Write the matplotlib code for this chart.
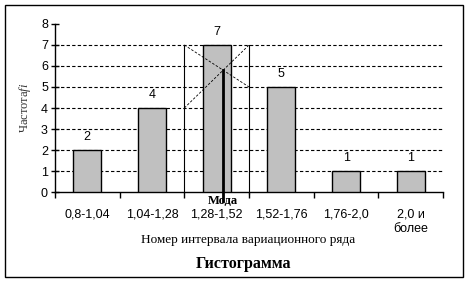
import matplotlib.pyplot as plt
from matplotlib.patches import Rectangle

categories = ['0,8-1,04', '1,04-1,28', '1,28-1,52', '1,52-1,76', '1,76-2,0', '2,0 и\nболее']
freqs = [2, 4, 7, 5, 1, 1]
modal_idx = 2

plt.rcParams['mathtext.fontset'] = 'custom'
plt.rcParams['mathtext.it'] = 'Liberation Serif:italic'
plt.rcParams['mathtext.rm'] = 'Liberation Serif'

fig = plt.figure(figsize=(4.69, 2.82), dpi=100)
ax = fig.add_axes([0.117, 0.319, 0.828, 0.596])

x = list(range(len(categories)))
ax.bar(x, freqs, width=0.43, color='#c0c0c0', edgecolor='black', linewidth=1, zorder=3)
for xi, f in zip(x, freqs):
    ax.text(xi, f + 0.35, str(f), ha='center', va='bottom', fontsize=9, family='Liberation Sans')

ax.set_xlim(-0.5, len(categories) - 0.5)
ax.set_ylim(0, 8)
ax.set_yticks(range(0, 9))
for y in range(1, 8):
    ax.axhline(y, color='black', linestyle=(0, (3, 2)), linewidth=0.8, zorder=1)

# построение моды
left = modal_idx - 0.5
right = modal_idx + 0.5
f_prev = freqs[modal_idx - 1]
f_mod = freqs[modal_idx]
f_next = freqs[modal_idx + 1]
ax.plot([left, left], [0, f_mod], color='black', lw=0.8, zorder=4)
ax.plot([right, right], [-0.1, f_mod], color='black', lw=0.8, zorder=4, clip_on=False)
ax.plot([left, right], [f_mod, f_next], color='black', lw=0.6, ls=(0, (3, 2)), zorder=4)
ax.plot([left, right], [f_prev, f_mod], color='black', lw=0.6, ls=(0, (3, 2)), zorder=4)
t = (f_mod - f_prev) / ((f_mod - f_prev) + (f_mod - f_next))
xm = left + t
ym = f_prev + t * (f_mod - f_prev)
ax.plot([xm, xm], [-0.45, ym], color='black', lw=2, zorder=5, clip_on=False)
ax.text(xm, -0.15, 'Мода', ha='center', va='top', fontsize=9, fontweight='bold',
        family='Liberation Serif', zorder=6)

ax.set_xticks([i - 0.5 for i in range(len(categories) + 1)])
ax.set_xticklabels([])
ax.set_xticks(x, minor=True)
ax.set_xticklabels(categories, minor=True, fontsize=9, family='Liberation Sans')
ax.tick_params(axis='x', which='minor', length=0, pad=12)
ax.tick_params(axis='x', which='major', direction='out', length=4, width=1)
ax.tick_params(axis='y', direction='inout', length=6, width=1, labelsize=9, pad=2)
for lab in ax.get_yticklabels():
    lab.set_family('Liberation Sans')

for s in ['top', 'right']:
    ax.spines[s].set_visible(False)
ax.spines['left'].set_linewidth(1)
ax.spines['bottom'].set_linewidth(1)

ax.set_ylabel('Частота$fi$', fontsize=9, family='Liberation Serif', color='#333333', labelpad=6)

fig.text(0.53, 1 - 240 / 282, 'Номер интервала вариационного ряда', ha='center', va='center',
         fontsize=9.5, family='Liberation Serif')
fig.text(0.52, 1 - 264 / 282, 'Гистограмма', ha='center', va='center',
         fontsize=11.5, fontweight='bold', family='Liberation Serif')

fig.patches.append(Rectangle((5 / 469, 5 / 282), 458 / 469, 272 / 282, transform=fig.transFigure,
                             fill=False, edgecolor='black', linewidth=1))

fig.savefig('out.png', dpi=100)
